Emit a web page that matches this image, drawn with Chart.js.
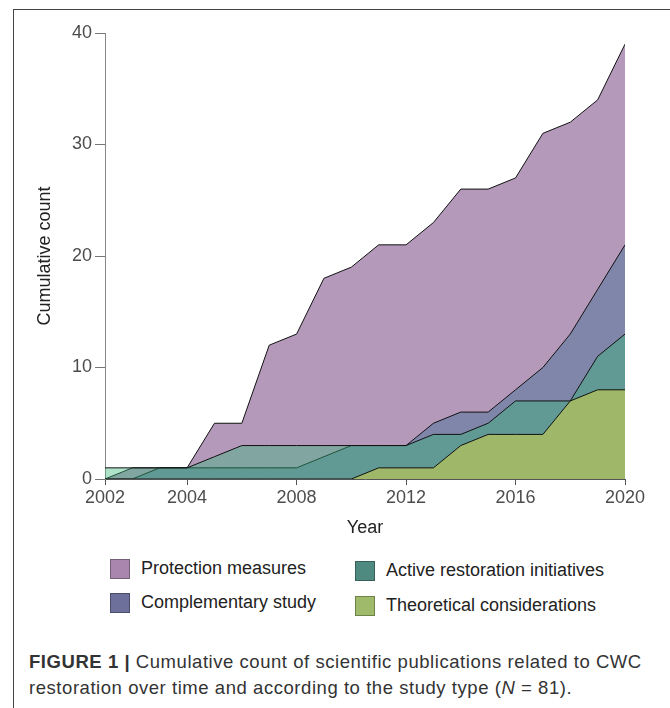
<!DOCTYPE html>
<html>
<head>
<meta charset="utf-8">
<script src="https://cdn.jsdelivr.net/npm/chart.js@4.4.1/dist/chart.umd.min.js"></script>
<style>
  html, body { margin: 0; padding: 0; background: #fff; }
  body { width: 670px; height: 708px; position: relative; overflow: hidden;
         font-family: "Liberation Sans", Arial, sans-serif; }
  #frame { position: absolute; left: 13px; top: 9px; width: 700px; height: 720px;
           border-left: 1.5px solid #444; border-top: 1.5px solid #444; }
  #wrap { position: absolute; left: 0; top: 0; width: 670px; height: 543px; }
  .legend { position: absolute; font-size: 18px; color: #222; }
  .item { position: absolute; white-space: nowrap; display: flex; align-items: center; }
  .box { width: 20px; height: 20px; box-sizing: border-box; border: 1px solid rgba(0,0,0,0.3);
         margin-right: 11px; }
  #caption { position: absolute; left: 29px; top: 649px; width: 630px; font-size: 18.5px;
             letter-spacing: 0.55px; line-height: 26px; color: #333; }
</style>
</head>
<body>
<div id="frame"></div>
<div id="wrap"><canvas id="chart" width="670" height="543"></canvas></div>
<div class="legend" id="legend"></div>
<div id="caption"><b>FIGURE 1 |</b> Cumulative count of scientific publications related to CWC
restoration over time and according to the study type (<i>N</i> = 81).</div>
<script>
// years on the x axis
const years = [2001, 2002, 2003, 2004, 2005, 2006, 2007, 2008, 2009, 2010,
               2011, 2012, 2013, 2014, 2015, 2016, 2017, 2018, 2019, 2020];

// cumulative counts per study type (areas overlap, not stacked)
const protection    = [0, 1, 1, 1, 5, 5, 12, 13, 18, 19, 21, 21, 23, 26, 26, 27, 31, 32, 34, 39];
const complementary = [0, 0, 1, 1, 1, 1, 1, 1, 2, 3, 3, 3, 5, 6, 6, 8, 10, 13, 17, 21];
const active        = [1, 1, 1, 1, 2, 3, 3, 3, 3, 3, 3, 3, 4, 4, 5, 7, 7, 7, 11, 13];
const theoretical   = [0, 0, 0, 0, 0, 0, 0, 0, 0, 0, 1, 1, 1, 3, 4, 4, 4, 7, 8, 8];

const seriesNames = ["Protection measures", "Complementary study",
                     "Active restoration initiatives", "Theoretical considerations"];

// tick marks on x axis and the text printed under them
const xTickPos    = [2001, 2004, 2008, 2012, 2016, 2020];
const xTickLabels = ["2002", "2004", "2008", "2012", "2016", "2020"];

const fills = ["rgba(68,1,84,0.4)", "rgba(49,104,142,0.4)",
               "rgba(53,183,121,0.4)", "rgba(253,231,37,0.4)"];
const keyColors = ["#a986ae", "#6c709b", "#4e8a80", "#9fba6a"];

function pts(vals) {
  return years.map((y, i) => ({ x: y, y: vals[i] }));
}

const allSeries = [protection, complementary, active, theoretical];
const datasets = allSeries.map((s, i) => ({
  label: seriesNames[i],
  data: pts(s),
  backgroundColor: fills[i],
  borderColor: "#111",
  borderWidth: 1,
  pointRadius: 0,
  tension: 0,
  fill: "origin",
  order: 4 - i // protection drawn first, theoretical on top
}));

const tickFont = { family: "Liberation Sans, Arial, sans-serif", size: 18 };

new Chart(document.getElementById("chart"), {
  type: "line",
  data: { datasets: datasets },
  options: {
    responsive: false,
    animation: false,
    devicePixelRatio: 1,
    layout: { padding: { left: 30, right: 45, top: 33, bottom: 0 } },
    plugins: { legend: { display: false }, tooltip: { enabled: false } },
    scales: {
      x: {
        type: "linear",
        min: 2001,
        max: 2020,
        afterBuildTicks: (s) => { s.ticks = xTickPos.map(v => ({ value: v })); },
        afterFit: (s) => { s.height = 64; },
        ticks: {
          autoSkip: false, maxRotation: 0, padding: 2,
          color: "#4d4d4d", font: tickFont,
          callback: (v, i) => xTickLabels[i]
        },
        grid: { drawOnChartArea: false, tickLength: 6, tickColor: "#555" },
        border: { color: "#555", width: 1 },
        title: { display: true, text: "Year", color: "#222", font: tickFont }
      },
      y: {
        min: 0,
        max: 40,
        afterFit: (s) => { s.width = 75; },
        ticks: { stepSize: 10, padding: 3, color: "#4d4d4d", font: tickFont },
        grid: { drawOnChartArea: false, tickLength: 10, tickColor: "#777" },
        border: { color: "#888", width: 1 },
        title: { display: true, text: "Cumulative count", color: "#222", font: tickFont }
      }
    }
  }
});

// legend laid out in two columns like the figure
const legendPos = [[110, 558], [110, 592], [355, 560], [355, 595]];
const legend = document.getElementById("legend");
seriesNames.forEach((name, i) => {
  const d = document.createElement("div");
  d.className = "item";
  d.style.left = legendPos[i][0] + "px";
  d.style.top = legendPos[i][1] + "px";
  d.innerHTML = '<div class="box" style="background:' + keyColors[i] + '"></div>' + name;
  legend.appendChild(d);
});
</script>
</body>
</html>
